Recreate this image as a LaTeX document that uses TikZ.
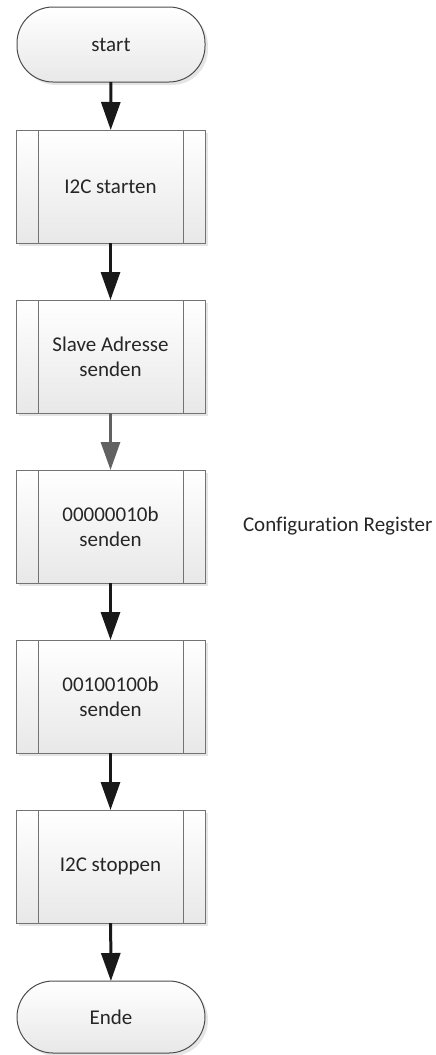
\documentclass[tikz,border=0pt]{standalone}
\usepackage{fontspec}
\setmainfont{Carlito}[Ligatures=CommonOff]
\usetikzlibrary{arrows.meta,shadows}
\begin{document}
\begin{tikzpicture}[x=1pt,y=-1pt,
  every node/.style={font=\fontsize{21}{25}\selectfont, text=black!85, align=center, outer sep=0pt},
  boxshade/.style={top color=white, bottom color=black!9, draw=black!55, line width=1pt,
    drop shadow={shadow xshift=3pt, shadow yshift=-3pt, opacity=0.25, fill=black!40}},
  terminal/.style={boxshade, minimum width=188pt, rounded corners=36pt, draw=black!70},
  subproc/.style={boxshade, minimum width=189pt, minimum height=113pt,
    path picture={
      \draw[black!55, line width=1pt]
        ([xshift=22pt]path picture bounding box.north west) -- ([xshift=22pt]path picture bounding box.south west)
        ([xshift=-22pt]path picture bounding box.north east) -- ([xshift=-22pt]path picture bounding box.south east);}},
  flow/.style={line width=3pt, draw=black!90, -{Triangle[length=28pt,width=19pt]}},
  flowgray/.style={flow, draw=black!62, fill=black!62}
]
\useasboundingbox (0,0) rectangle (436,1055);

\node[terminal, minimum height=75pt] (start) at (111,44.5) {start};
\node[subproc] (i2c) at (110.5,186.5) {I2C starten};
\node[subproc] (addr) at (110.5,356.5) {Slave Adresse\\senden};
\node[subproc] (conf) at (110.5,526.5) {00000010b\\senden};
\node[subproc] (val) at (110.5,696.5) {00100100b\\senden};
\node[subproc] (stop) at (110.5,866.5) {I2C stoppen};
\node[terminal, minimum height=72pt] (ende) at (111,1017) {Ende};

\node[anchor=west, inner sep=0pt] (reg) at (243,526.5) {Configuration Register};

\draw[flow] (start) -- (i2c);
\draw[flow] (i2c) -- (addr);
\draw[flowgray] (addr) -- (conf);
\draw[flow] (conf) -- (val);
\draw[flow] (val) -- (stop);
\draw[flow] (stop) -- (ende);
\end{tikzpicture}
\end{document}
